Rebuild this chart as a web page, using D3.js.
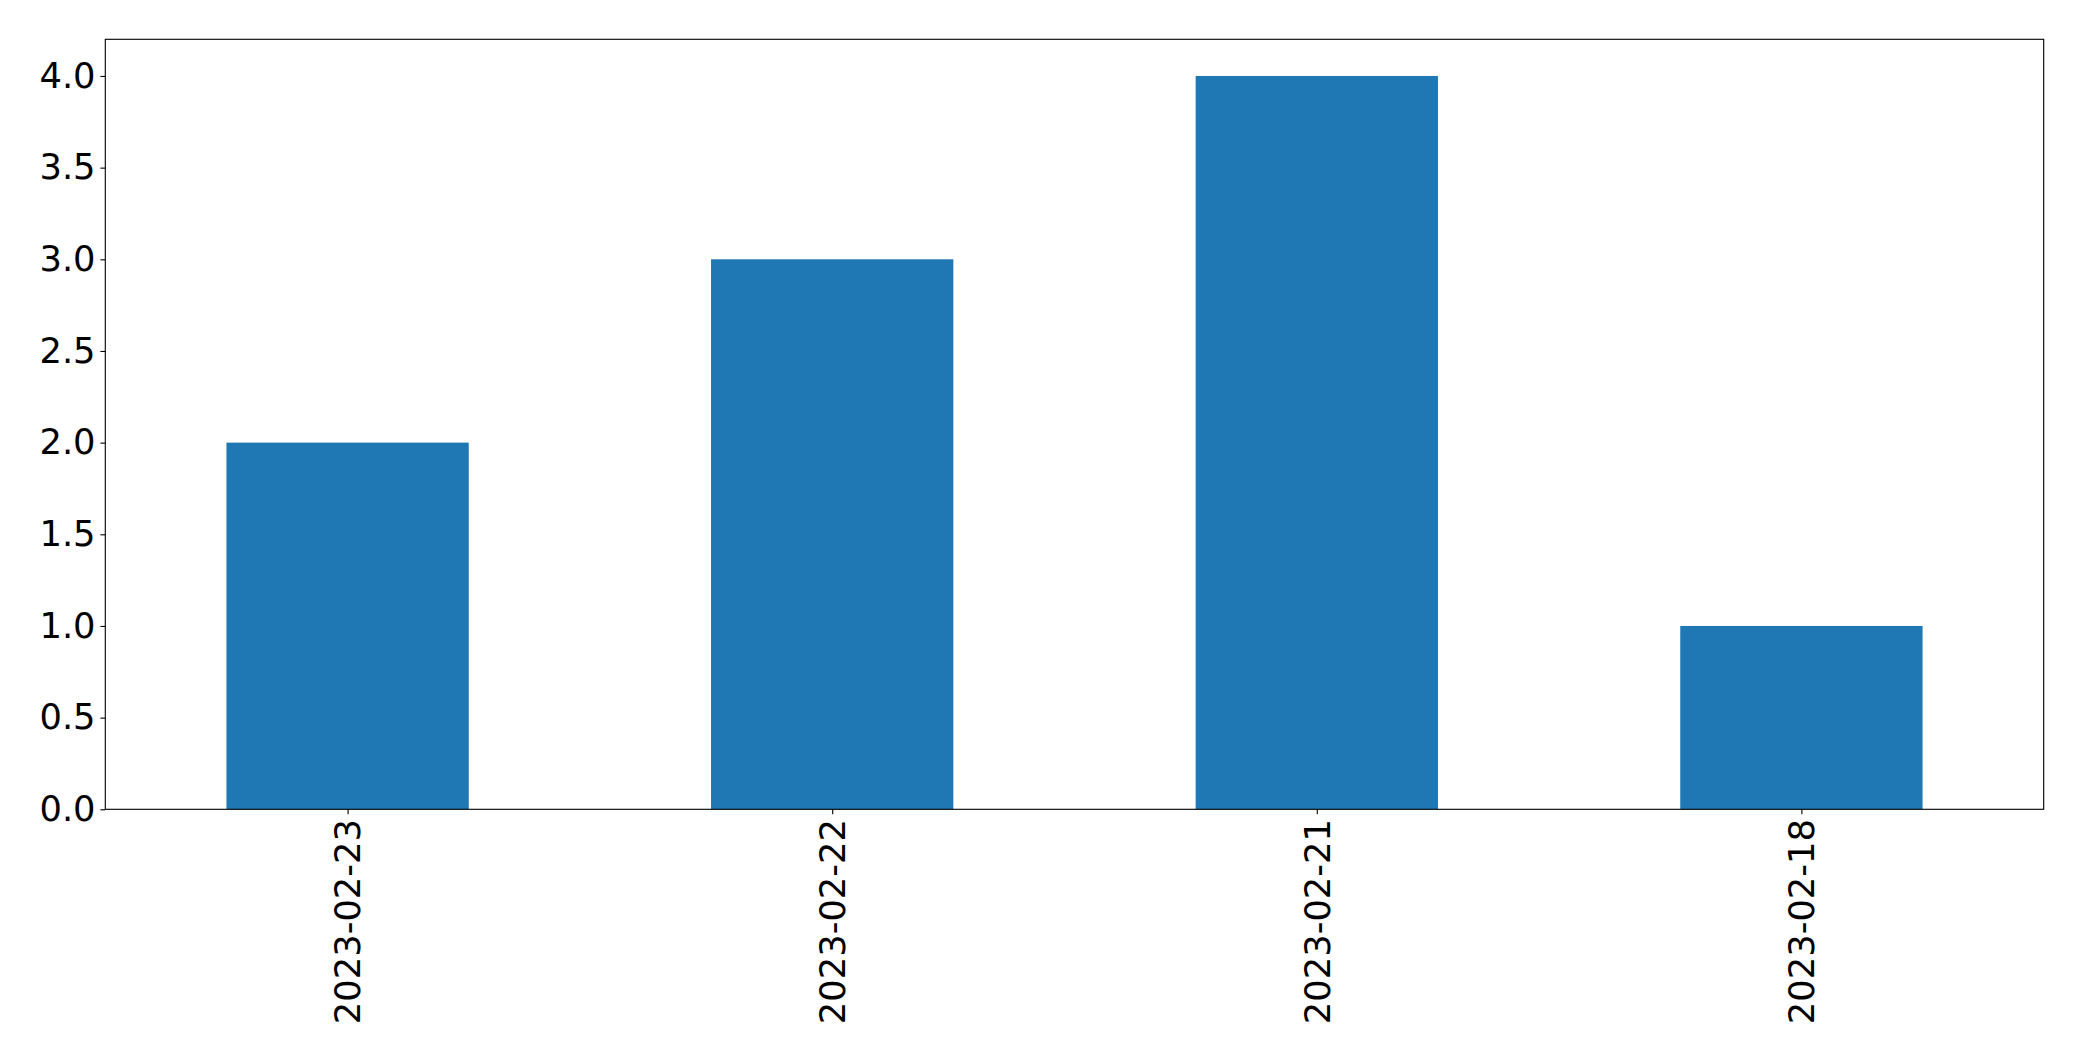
<!DOCTYPE html>
<html><head><meta charset="utf-8">
<script src="https://cdn.jsdelivr.net/npm/d3@7"></script>
<style>body{margin:0;background:#fff}svg{display:block}text{font-family:"DejaVu Sans",sans-serif}</style>
</head><body>
<svg id="c" width="2082" height="1061"></svg>
<script>
const categories = ["2023-02-23","2023-02-22","2023-02-21","2023-02-18"];
const values = [2, 3, 4, 1];
const yTicks = [0,0.5,1,1.5,2,2.5,3,3.5,4];
const yTickLabels = ["0.0","0.5","1.0","1.5","2.0","2.5","3.0","3.5","4.0"];

const svg = d3.select("#c");
const L = 105.3, R = 2043.7, T = 39.3, B = 809.3;
const x = d3.scaleLinear().domain([-0.5, categories.length - 0.5]).range([L, R]);
const y = d3.scaleLinear().domain([0, 4.2]).range([B, T]);
const fs = 35.3, tickLen = 4.86, pad = 4.86, lw = 1.11;

svg.append("g").selectAll("rect").data(values).join("rect")
  .attr("x", (d,i) => x(i - 0.25)).attr("width", (d,i) => x(i + 0.25) - x(i - 0.25))
  .attr("y", d => y(d)).attr("height", d => y(0) - y(d))
  .attr("fill", "#1f77b4");

const yAxis = svg.append("g").attr("transform", `translate(${L},0)`)
  .call(d3.axisLeft(y).tickValues(yTicks).tickFormat((d,i) => yTickLabels[i]).tickSize(tickLen).tickPadding(pad));
yAxis.select(".domain").remove();
yAxis.selectAll("line").attr("stroke", "#000").attr("stroke-width", lw);
yAxis.selectAll("text").attr("font-size", fs).attr("fill", "#000").attr("font-family", "DejaVu Sans");

const xAxis = svg.append("g").attr("transform", `translate(0,${B})`)
  .call(d3.axisBottom(x).tickValues(d3.range(categories.length)).tickFormat(i => categories[i]).tickSize(tickLen).tickPadding(pad));
xAxis.select(".domain").remove();
xAxis.selectAll("line").attr("stroke", "#000").attr("stroke-width", lw);
xAxis.selectAll("text").attr("font-size", fs).attr("fill", "#000").attr("font-family", "DejaVu Sans")
  .attr("transform", `translate(0,${tickLen + pad}) rotate(-90)`)
  .attr("x", 0).attr("y", 0).attr("dy", "0.35em").attr("text-anchor", "end");

svg.append("rect").attr("x", L).attr("y", T).attr("width", R - L).attr("height", B - T)
  .attr("fill", "none").attr("stroke", "#000").attr("stroke-width", lw);
</script>
</body></html>
